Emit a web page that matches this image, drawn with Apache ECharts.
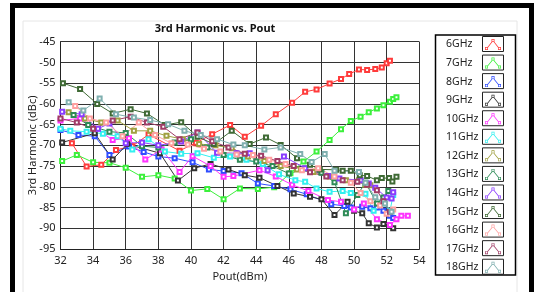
<!DOCTYPE html>
<html><head><meta charset="utf-8">
<script src="https://cdn.jsdelivr.net/npm/echarts@6/dist/echarts.min.js"></script>
<style>html,body{margin:0;padding:0;background:#fff}#c{width:535px;height:292px}</style>
</head><body><div id="c"></div>
<script>
// ---- data ----
const seriesNames = ['6GHz','7GHz','8GHz','9GHz','10GHz','11GHz','12GHz','13GHz','14GHz','15GHz','16GHz','17GHz','18GHz'];
const xTicks = [32,34,36,38,40,42,44,46,48,50,52,54];
const yTicks = [-95,-90,-85,-80,-75,-70,-65,-60,-55,-50,-45];

const pout6  = [32.7,33.6,34.5,35.4,36.4,37.4,39.3,40.3,41.3,42.4,43.3,44.3,45.2,46.2,47.0,47.7,48.5,49.2,49.7,50.3,50.8,51.3,51.7,52.0,52.2];
const h3_6   = [-69.5,-75.1,-74.7,-71.1,-70.2,-67.4,-71.3,-69.4,-67.3,-65.1,-67.9,-65.3,-62.5,-59.7,-57.1,-56.5,-55.1,-54.0,-52.8,-51.7,-51.8,-51.6,-51.2,-50.2,-49.6];

const pout7  = [32.1,33.0,34.0,35.0,36.0,37.0,38.0,39.0,40.0,41.0,42.0,43.0,44.1,45.1,46.1,46.9,47.7,48.5,49.2,49.8,50.4,50.9,51.4,51.8,52.2,52.4,52.6];
const h3_7   = [-73.8,-72.3,-74.1,-74.2,-75.4,-77.6,-77.2,-78.0,-80.9,-80.5,-83.0,-80.4,-80.5,-80.1,-76.7,-73.9,-71.5,-68.7,-66.1,-64.1,-63.1,-62.0,-61.1,-60.3,-59.5,-58.8,-58.4];

const pout8  = [32.0,33.1,34.1,35.0,36.2,37.1,38.0,39.0,40.1,41.1,42.0,43.1,44.1,45.1,46.1,47.1,48.6,49.4,49.8,50.5,51.0,51.4,51.8,52.2,52.4];
const h3_8   = [-66.3,-67.5,-67.8,-72.3,-70.3,-71.6,-72.7,-73.1,-74.1,-75.8,-76.2,-76.7,-79.2,-79.8,-80.6,-81.8,-84.2,-84.6,-85.0,-84.8,-85.2,-85.0,-85.8,-87.0,-87.5];

const pout9  = [32.1,34.1,35.2,36.1,38.1,39.2,40.2,41.2,42.3,43.3,44.2,45.3,46.3,47.3,48.0,48.8,49.6,50.0,50.5,50.9,51.4,51.8,52.4];
const h3_9   = [-69.3,-67.1,-73.4,-69.7,-71.9,-78.5,-75.5,-74.5,-75.8,-77.2,-77.8,-79.8,-81.6,-82.4,-83.0,-86.8,-83.6,-85.8,-86.4,-88.8,-89.8,-89.0,-90.0];

const pout10 = [32.0,33.2,34.2,35.2,36.2,37.2,38.2,39.3,40.1,41.2,42.0,42.6,44.2,45.2,46.2,47.2,48.4,49.2,50.0,50.6,51.4,52.2,52.6,52.9,53.3];
const h3_10  = [-64.0,-63.5,-66.0,-68.7,-68.3,-73.4,-71.0,-76.4,-72.6,-75.0,-77.6,-77.4,-76.0,-77.5,-79.5,-81.0,-83.2,-83.6,-85.5,-84.0,-87.8,-89.2,-87.8,-87.0,-87.0];

const pout11 = [32.0,32.6,33.6,34.6,35.5,36.4,37.4,38.4,39.4,40.4,41.4,42.4,43.4,44.4,45.4,46.4,47.0,47.7,48.5,49.3,49.8,50.7,51.2,51.8,52.2,52.4];
const h3_11  = [-66.0,-66.5,-66.7,-67.2,-67.8,-71.0,-68.5,-71.5,-72.0,-71.9,-73.0,-72.7,-73.5,-74.5,-77.0,-78.4,-78.8,-80.4,-81.2,-81.0,-81.5,-81.7,-85.8,-84.0,-85.8,-82.0];

const pout12 = [32.5,33.5,34.5,35.5,36.5,37.5,38.5,39.5,40.5,41.5,42.5,43.5,44.5,45.5,46.5,47.5,48.5,49.5,50.3,50.7,51.0];
const h3_12  = [-62.0,-63.5,-64.5,-64.0,-66.5,-66.5,-67.7,-68.5,-69.7,-70.0,-70.7,-72.7,-73.8,-75.0,-75.8,-76.4,-77.5,-78.4,-78.4,-79.5,-79.6];

const pout13 = [32.8,33.7,35.0,36.0,37.0,38.0,39.0,40.0,41.0,42.0,43.0,44.0,45.0,46.0,47.0,48.0,48.8,49.5,50.2,50.7,51.4,51.8,52.1];
const h3_13  = [-62.7,-65.1,-66.7,-67.0,-70.2,-70.5,-69.3,-68.5,-70.5,-72.3,-73.5,-73.9,-75.0,-76.8,-75.6,-76.6,-78.9,-86.4,-82.0,-79.0,-84.0,-82.6,-81.0];

const pout14 = [32.1,33.3,34.3,35.0,36.0,37.0,38.0,39.4,40.4,41.6,42.8,43.6,44.7,45.7,47.0,48.4,49.1,50.4,50.9,51.3,52.0,52.3,52.4];
const h3_14  = [-61.9,-62.5,-66.0,-64.7,-69.5,-69.3,-70.0,-69.1,-66.9,-71.8,-71.9,-71.9,-76.0,-72.7,-75.5,-77.4,-78.0,-78.4,-79.2,-80.2,-82.6,-82.8,-81.3];

const pout15 = [32.15,33.2,34.25,35.2,36.3,37.3,38.4,39.4,40.4,41.4,42.5,43.6,44.6,45.5,46.5,47.3,47.9,48.9,49.3,49.8,50.35,50.8,51.4,51.7,52.15,52.35,52.6];
const h3_15  = [-55.0,-56.4,-60.0,-62.3,-61.3,-62.3,-65.1,-64.4,-67.9,-69.7,-66.5,-69.7,-68.1,-69.9,-73.1,-74.7,-75.8,-75.9,-76.1,-76.1,-77.2,-77.4,-78.4,-77.9,-77.9,-78.7,-77.6];

const pout16 = [32.9,33.8,34.8,35.8,36.8,37.8,38.8,39.8,40.8,41.8,42.8,43.8,44.8,45.8,46.8,47.8,48.8,49.8,50.4,51.0,51.6,52.0,52.4];
const h3_16  = [-60.5,-63.5,-64.5,-67.8,-64.5,-67.5,-69.5,-69.8,-70.8,-71.5,-72.2,-72.3,-73.5,-74.5,-76.0,-75.5,-77.5,-79.0,-81.5,-83.5,-84.5,-86.5,-85.5];

const pout17 = [32.0,33.0,34.0,35.2,36.3,37.3,38.3,39.3,40.4,41.3,42.3,43.3,44.3,45.3,46.3,47.3,48.3,49.3,50.2,50.8,51.4,51.8,52.2];
const h3_17  = [-63.5,-64.5,-66.0,-64.0,-63.1,-64.5,-65.5,-68.5,-66.9,-69.0,-70.5,-72.0,-72.5,-73.8,-75.0,-76.5,-77.5,-78.4,-78.8,-79.5,-80.8,-83.5,-86.0];

const pout18 = [32.5,33.4,34.4,35.4,36.5,37.5,38.6,39.6,40.6,41.6,42.6,43.3,44.5,45.5,46.7,47.4,48.2,48.8,50.3,50.7,51.3,51.9,52.3];
const h3_18  = [-59.6,-61.6,-58.7,-62.5,-63.3,-63.9,-64.9,-66.5,-67.5,-68.5,-69.8,-70.0,-71.0,-70.5,-72.1,-74.0,-72.1,-76.1,-76.4,-79.0,-82.5,-84.0,-86.0];

const poutData = [pout6,pout7,pout8,pout9,pout10,pout11,pout12,pout13,pout14,pout15,pout16,pout17,pout18];
const h3Data   = [h3_6,h3_7,h3_8,h3_9,h3_10,h3_11,h3_12,h3_13,h3_14,h3_15,h3_16,h3_17,h3_18];

// ---- styles ----
const colors = ['#ff3b3b','#3cf03c','#2f4dff','#333333','#ff33ff','#33f0f0','#a0a040','#2e8b57','#8a3cff','#3f6a35','#ffa0a0','#a03c66','#80b0b0'];
const FONT = 'Noto Sans';
const iconPath = 'path://M0 8h3v3h-3zM0.7 8.7v1.6h1.6v-1.6zM6.5 0h3v3h-3zM7.2 0.7v1.6h1.6v-1.6zM13 8h3v3h-3zM13.7 8.7v1.6h1.6v-1.6zM2.3 8.2L6.8 2.6L7.4 3.1L2.9 8.7zM9.2 2.6L13.7 8.2L13.1 8.7L8.6 3.1z';

const legTop = 36, legStep = 18.56;
const graphics = [
  {type:'rect', shape:{x:12.5,y:5.5,width:519,height:300}, style:{fill:'none',stroke:'#000',lineWidth:5}, silent:true},
  {type:'rect', shape:{x:23,y:21,width:494,height:290}, style:{fill:'none',stroke:'#e6e6e6',lineWidth:1}, silent:true},
  {type:'rect', shape:{x:435.5,y:35,width:80,height:240}, style:{fill:'none',stroke:'#000',lineWidth:1.5}, silent:true}
];
seriesNames.forEach((n,i)=>{
  graphics.push({type:'rect', shape:{x:482.5,y:legTop+0.5+i*legStep,width:21,height:15}, style:{fill:'none',stroke:'#222',lineWidth:1}, silent:true});
});

const series = seriesNames.map((n,i)=>({
  name:n, type:'line',
  data: poutData[i].map((x,k)=>[x,h3Data[i][k]]),
  symbol:'emptyRect', symbolSize:4,
  lineStyle:{width:1,color:colors[i]},
  itemStyle:{color:colors[i],borderWidth:1},
  animation:false
}));

const chart = echarts.init(document.getElementById('c'), null, {renderer:'canvas'});
chart.setOption({
  backgroundColor:'#fff',
  animation:false,
  title:{text:'3rd Harmonic vs. Pout', left:210, top:18, textAlign:'center',
    textStyle:{fontFamily:FONT,fontSize:11,fontWeight:'bold',color:'#111'}},
  grid:{left:60.5, top:41.7, width:358.8, height:207.3, outerBoundsMode:'none', containLabel:false},
  xAxis:{type:'value', min:32, max:54, interval:2,
    name:'Pout(dBm)', nameLocation:'middle', nameGap:22, nameMoveOverlap:false,
    nameTextStyle:{fontFamily:FONT,fontSize:11,color:'#222'},
    axisLine:{show:true,lineStyle:{color:'#222',width:1}}, axisTick:{show:false},
    axisLabel:{fontFamily:FONT,fontSize:11,color:'#222',margin:6},
    splitLine:{show:true,lineStyle:{color:'#333',width:1}}},
  yAxis:{type:'value', min:-95, max:-45, interval:5,
    name:'3rd Harmonic (dBc)', nameLocation:'middle', nameGap:22, nameRotate:90, nameMoveOverlap:false,
    nameTextStyle:{fontFamily:FONT,fontSize:11,color:'#222'},
    axisLine:{show:true,lineStyle:{color:'#222',width:1}}, axisTick:{show:false},
    axisLabel:{fontFamily:FONT,fontSize:11,color:'#222',margin:5},
    splitLine:{show:true,lineStyle:{color:'#333',width:1}}},
  legend:{orient:'vertical', left:446, top:legTop+2.5, align:'right',
    itemWidth:16, itemHeight:11, itemGap:legStep-12, padding:0,
    icon:iconPath,
    formatter: name => '{t|' + name + '}',
    textStyle:{fontFamily:FONT,fontSize:10.5,color:'#222',lineHeight:12,
      rich:{t:{width:34,align:'left',fontFamily:FONT,fontSize:10.5,color:'#222',lineHeight:12}}},
    data:seriesNames},
  graphic:graphics,
  series:series
});
</script></body></html>
